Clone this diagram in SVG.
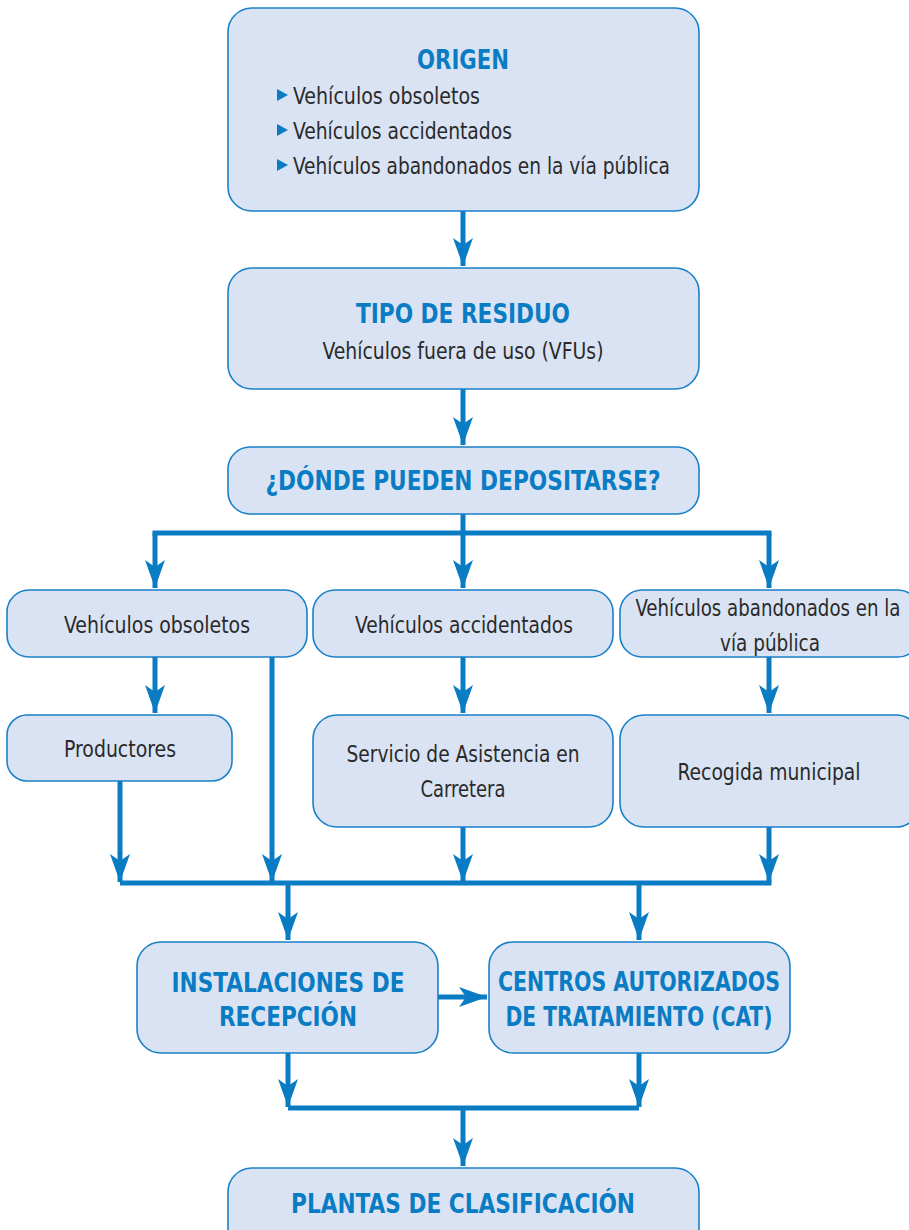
<svg xmlns="http://www.w3.org/2000/svg" width="909" height="1230" viewBox="0 0 909 1230">
  <defs>
    <style>
      .box { fill: #dae3f3; stroke: #1a80c8; stroke-width: 1.6; }
      .title { font-family: "Liberation Sans Narrow", "DejaVu Sans Condensed", "Liberation Sans", sans-serif; font-weight: bold; font-size: 27px; fill: #0a7cc4; text-anchor: middle; }
      .txt { font-family: "Liberation Sans Narrow", "DejaVu Sans Condensed", "Liberation Sans", sans-serif; font-size: 23px; fill: #2a2a2a; text-anchor: middle; }
      .lft { text-anchor: start; }
      .wire { fill: none; stroke: #0a7cc4; stroke-width: 5; stroke-linecap: butt; stroke-linejoin: miter; }
      .bullet { fill: #0a7cc4; }
    </style>
    <marker id="head" viewBox="-30 -11 32 22" markerUnits="userSpaceOnUse" markerWidth="32" markerHeight="22" refX="0" refY="0" orient="auto">
      <path d="M0,0 L-28,-10 L-21,0 L-28,10 Z" fill="#0a7cc4"/>
    </marker>
  </defs>

  <!-- connectors -->
  <g id="connectors">
    <path class="wire" d="M463,211 V266" marker-end="url(#head)"/>
    <path class="wire" d="M463,389 V445" marker-end="url(#head)"/>
    <path class="wire" d="M463,514 V533"/>
    <path class="wire" d="M152.5,533 H771.5"/>
    <path class="wire" d="M155,533 V588" marker-end="url(#head)"/>
    <path class="wire" d="M463,533 V588" marker-end="url(#head)"/>
    <path class="wire" d="M769,533 V588" marker-end="url(#head)"/>
    <path class="wire" d="M155,657 V713" marker-end="url(#head)"/>
    <path class="wire" d="M463,657 V713" marker-end="url(#head)"/>
    <path class="wire" d="M769,657 V713" marker-end="url(#head)"/>
    <path class="wire" d="M272,657 V882" marker-end="url(#head)"/>
    <path class="wire" d="M120,781 V882" marker-end="url(#head)"/>
    <path class="wire" d="M463,827 V882" marker-end="url(#head)"/>
    <path class="wire" d="M769,827 V882" marker-end="url(#head)"/>
    <path class="wire" d="M120,883 H771.5"/>
    <path class="wire" d="M288,883 V940" marker-end="url(#head)"/>
    <path class="wire" d="M639,883 V940" marker-end="url(#head)"/>
    <path class="wire" d="M438,997 H487" marker-end="url(#head)"/>
    <path class="wire" d="M288,1053 V1107" marker-end="url(#head)"/>
    <path class="wire" d="M639,1053 V1107" marker-end="url(#head)"/>
    <path class="wire" d="M288,1108 H639"/>
    <path class="wire" d="M463,1108 V1166" marker-end="url(#head)"/>
  </g>

  <g id="origen">
    <rect class="box" x="228" y="8" width="471" height="203" rx="24"/>
    <text class="title" x="463" y="69" textLength="92" lengthAdjust="spacingAndGlyphs">ORIGEN</text>
    <path class="bullet" d="M277,89 L288,95 L277,101 Z"/>
    <text class="txt lft" x="293" y="104" textLength="187" lengthAdjust="spacingAndGlyphs">Vehículos obsoletos</text>
    <path class="bullet" d="M277,124 L288,130 L277,136 Z"/>
    <text class="txt lft" x="293" y="139" textLength="219" lengthAdjust="spacingAndGlyphs">Vehículos accidentados</text>
    <path class="bullet" d="M277,159 L288,165 L277,171 Z"/>
    <text class="txt lft" x="293" y="174" textLength="377" lengthAdjust="spacingAndGlyphs">Vehículos abandonados en la vía pública</text>
  </g>

  <g id="tipo-residuo">
    <rect class="box" x="228" y="268" width="471" height="121" rx="24"/>
    <text class="title" x="463" y="323" textLength="214" lengthAdjust="spacingAndGlyphs">TIPO DE RESIDUO</text>
    <text class="txt" x="463" y="359" textLength="281" lengthAdjust="spacingAndGlyphs">Vehículos fuera de uso (VFUs)</text>
  </g>

  <g id="donde">
    <rect class="box" x="228" y="447" width="471" height="67" rx="22"/>
    <text class="title" x="463" y="490" textLength="395" lengthAdjust="spacingAndGlyphs">¿DÓNDE PUEDEN DEPOSITARSE?</text>
  </g>

  <g id="obsoletos">
    <rect class="box" x="7" y="590" width="300" height="67" rx="22"/>
    <text class="txt" x="157" y="633" textLength="186" lengthAdjust="spacingAndGlyphs">Vehículos obsoletos</text>
  </g>

  <g id="accidentados">
    <rect class="box" x="313" y="590" width="300" height="67" rx="22"/>
    <text class="txt" x="464" y="633" textLength="218" lengthAdjust="spacingAndGlyphs">Vehículos accidentados</text>
  </g>

  <g id="abandonados">
    <rect class="box" x="620" y="590" width="300" height="67" rx="22"/>
    <text class="txt" x="768" y="616" textLength="265" lengthAdjust="spacingAndGlyphs">Vehículos abandonados en la</text>
    <text class="txt" x="770" y="651" textLength="100" lengthAdjust="spacingAndGlyphs">vía pública</text>
  </g>

  <g id="productores">
    <rect class="box" x="7" y="715" width="225" height="66" rx="20"/>
    <text class="txt" x="120" y="757" textLength="112" lengthAdjust="spacingAndGlyphs">Productores</text>
  </g>

  <g id="asistencia">
    <rect class="box" x="313" y="715" width="300" height="112" rx="24"/>
    <text class="txt" x="463" y="762" textLength="233" lengthAdjust="spacingAndGlyphs">Servicio de Asistencia en</text>
    <text class="txt" x="463" y="797" textLength="85" lengthAdjust="spacingAndGlyphs">Carretera</text>
  </g>

  <g id="recogida">
    <rect class="box" x="620" y="715" width="300" height="112" rx="24"/>
    <text class="txt" x="769" y="780" textLength="183" lengthAdjust="spacingAndGlyphs">Recogida municipal</text>
  </g>

  <g id="instalaciones">
    <rect class="box" x="137" y="942" width="301" height="111" rx="24"/>
    <text class="title" x="288" y="992" textLength="233" lengthAdjust="spacingAndGlyphs">INSTALACIONES DE</text>
    <text class="title" x="288" y="1026" textLength="138" lengthAdjust="spacingAndGlyphs">RECEPCIÓN</text>
  </g>

  <g id="cat">
    <rect class="box" x="489" y="942" width="301" height="111" rx="24"/>
    <text class="title" x="639" y="991" textLength="282" lengthAdjust="spacingAndGlyphs">CENTROS AUTORIZADOS</text>
    <text class="title" x="639" y="1026" textLength="267" lengthAdjust="spacingAndGlyphs">DE TRATAMIENTO (CAT)</text>
  </g>

  <g id="plantas">
    <rect class="box" x="228" y="1168" width="471" height="90" rx="24"/>
    <text class="title" x="463" y="1213" textLength="344" lengthAdjust="spacingAndGlyphs">PLANTAS DE CLASIFICACIÓN</text>
  </g>
</svg>
